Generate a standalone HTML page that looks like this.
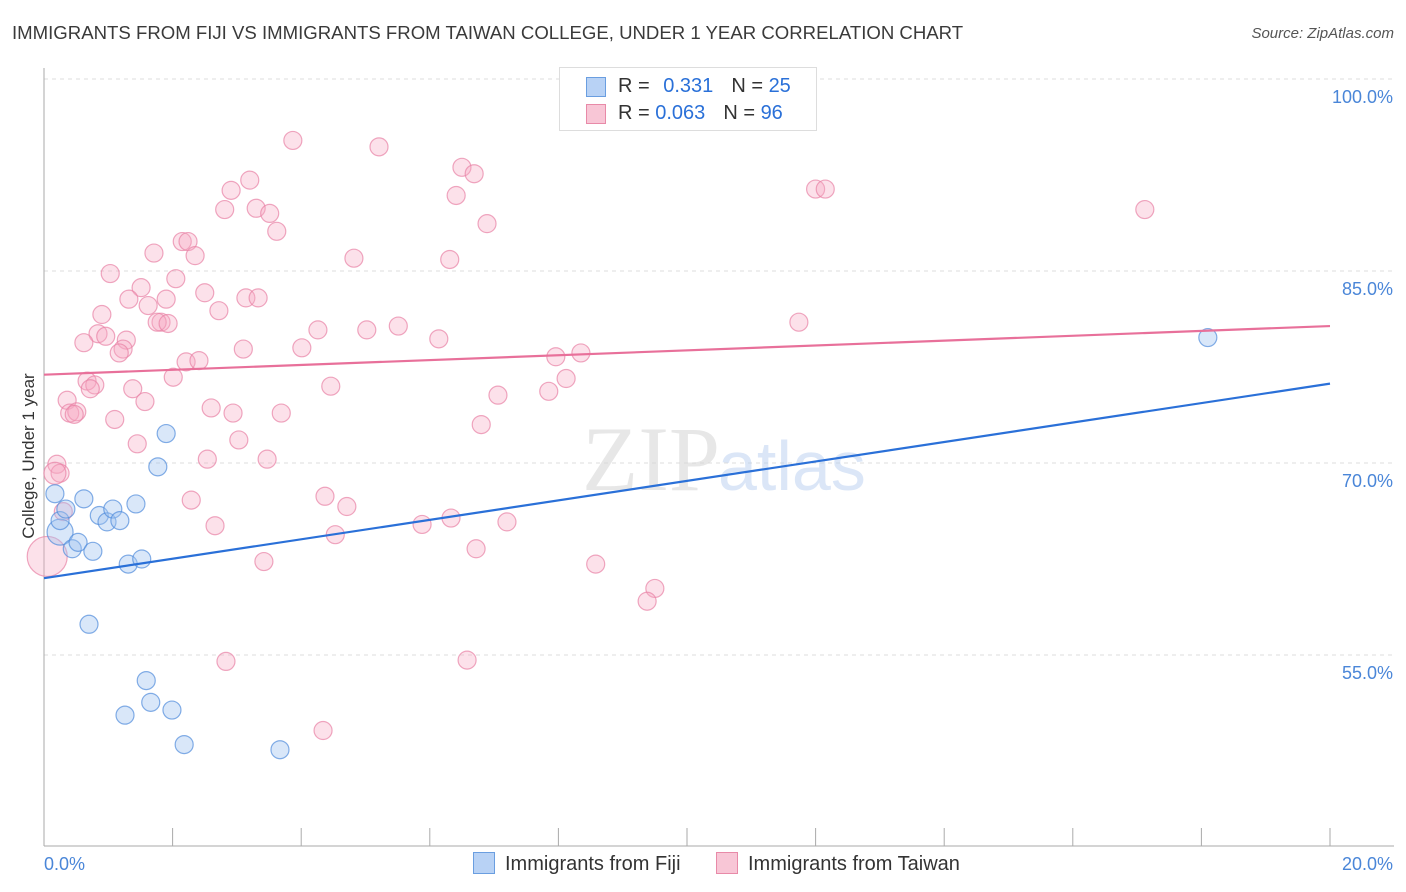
<!DOCTYPE html>
<html><head><meta charset="utf-8">
<style>
body{margin:0;background:#fff;font-family:"Liberation Sans",sans-serif;}
#wrap{position:relative;width:1406px;height:892px;overflow:hidden;}
.t{position:absolute;white-space:nowrap;}
</style></head>
<body>
<div id="wrap">
<div class="t" style="left:12px;top:22px;font-size:18.6px;color:#3a3a3a;">IMMIGRANTS FROM FIJI VS IMMIGRANTS FROM TAIWAN COLLEGE, UNDER 1 YEAR CORRELATION CHART</div>
<div class="t" style="right:12px;top:25px;font-size:15px;color:#555;font-style:italic;">Source: ZipAtlas.com</div>
<svg id="svg" width="1406" height="892" style="position:absolute;left:0;top:0"></svg>
</div>
<script>
const yTicks=[100,85,70,55];
const yTickLabels=["100.0%","85.0%","70.0%","55.0%"];
const fijiX=[0.25,0.17,0.25,0.34,0.44,0.53,0.62,0.76,0.70,0.86,0.98,1.07,1.18,1.31,1.43,1.52,1.90,1.77,1.59,1.66,1.99,1.26,2.18,3.67,18.1];
const fijiY=[64.6,67.6,65.5,66.4,63.3,63.8,67.2,63.1,57.4,65.9,65.4,66.4,65.5,62.1,66.8,62.5,72.3,69.7,53.0,51.3,50.7,50.3,48.0,47.6,79.8];
const twX=[3.87,5.21,6.50,6.69,6.41,3.20,2.91,2.81,3.30,3.51,3.62,6.89,2.15,2.24,1.71,2.35,4.82,6.31,1.03,2.05,1.51,2.50,1.32,1.90,3.14,3.33,1.62,2.72,0.90,1.82,1.76,1.93,4.26,5.02,5.51,0.84,0.96,1.28,0.62,1.23,1.17,3.10,4.01,6.14,11.74,8.35,7.96,0.67,0.79,2.01,2.21,2.41,4.46,1.38,0.72,0.36,1.57,7.06,7.85,8.12,2.60,0.40,0.51,1.10,0.47,2.94,3.69,6.80,1.45,3.03,2.54,3.47,0.20,0.25,2.29,4.37,4.71,0.30,2.66,5.88,6.33,7.20,4.53,6.72,3.42,8.58,9.50,9.38,2.83,6.58,4.34,12.0,12.15,17.12,0.05,0.17];
const twY=[95.2,94.7,93.1,92.6,90.9,92.1,91.3,89.8,89.9,89.5,88.1,88.7,87.3,87.3,86.4,86.2,86.0,85.9,84.8,84.4,83.7,83.3,82.8,82.8,82.9,82.9,82.3,81.9,81.6,81.0,81.0,80.9,80.4,80.4,80.7,80.1,79.9,79.6,79.4,78.9,78.6,78.9,79.0,79.7,81.0,78.6,78.3,76.4,76.1,76.7,77.9,78.0,76.0,75.8,75.8,74.9,74.8,75.3,75.6,76.6,74.3,73.9,74.0,73.4,73.8,73.9,73.9,73.0,71.5,71.8,70.3,70.3,69.9,69.2,67.1,67.4,66.6,66.2,65.1,65.2,65.7,65.4,64.4,63.3,62.3,62.1,60.2,59.2,54.5,54.6,49.1,91.4,91.4,89.8,62.7,69.2];
const twR=twX.map((v,i)=>i>=94?(i==94?20:11):9);
const fijiR=fijiX.map((v,i)=>i==0?13:9);
const fijiLine=[61.0,76.2], twLine=[76.9,80.7];
const X0=44,X1=1330;
const xs=v=>X0+(v/20)*(X1-X0);
const ys=v=>79+(100-v)*12.8;
const NS="http://www.w3.org/2000/svg",svg=document.getElementById('svg');
function mk(tag,at){const e=document.createElementNS(NS,tag);for(const k in at)e.setAttribute(k,at[k]);svg.appendChild(e);return e;}
function txt(x,y,s,at){const e=mk('text',Object.assign({x:x,y:y},at));e.textContent=s;return e;}
yTicks.forEach((t,i)=>{
 const g=mk('line',{x1:X0,x2:1394,y1:ys(t),y2:ys(t),stroke:'#dcdcdc','stroke-dasharray':'4,4'});
 
 
 const l=txt(1393,ys(t)+24,yTickLabels[i],{'text-anchor':'end','font-size':18,fill:'#4a86d8','font-family':'Liberation Sans'});
 
 
});
const ax=mk('line',{x1:X0,x2:X0,y1:68,y2:846,stroke:'#aaa'});


const bx=mk('line',{x1:X0,x2:1394,y1:846,y2:846,stroke:'#aaa'});


for(let v=2;v<=20;v+=2){const tk=mk('line',{x1:xs(v),x2:xs(v),y1:828,y2:846,stroke:'#aaa'});
 
 }
const xl0=txt(44,870,'0.0%',{'font-size':18,fill:'#4a86d8','font-family':'Liberation Sans'});


const xl1=txt(1393,870,'20.0%',{'text-anchor':'end','font-size':18,fill:'#4a86d8','font-family':'Liberation Sans'});


const yt=txt(0,0,'College, Under 1 year',{'font-size':17,fill:'#333','font-family':'Liberation Sans','text-anchor':'middle',transform:'translate(34,456) rotate(-90)'});


const wm=txt(720,490,'ZIP',{'font-size':92,fill:'#d8d8d8','font-family':'Liberation Serif','text-anchor':'end','opacity':0.6});


const wm2=txt(718,490,'atlas',{'font-size':70,fill:'#b8cff0','font-family':'Liberation Sans','opacity':0.5});


twX.forEach((v,i)=>{const c=mk('circle',{cx:xs(v),cy:ys(twY[i]),r:twR[i],fill:'rgba(245,170,195,0.35)',stroke:'rgba(232,130,165,0.7)','stroke-width':1.2});
 
 });
fijiX.forEach((v,i)=>{const c=mk('circle',{cx:xs(v),cy:ys(fijiY[i]),r:fijiR[i],fill:'rgba(160,195,240,0.4)',stroke:'rgba(80,140,220,0.7)','stroke-width':1.2});
 
 });
const l1=mk('line',{x1:xs(0),x2:xs(20),y1:ys(twLine[0]),y2:ys(twLine[1]),stroke:'#e8709a','stroke-width':2.2});


const l2=mk('line',{x1:xs(0),x2:xs(20),y1:ys(fijiLine[0]),y2:ys(fijiLine[1]),stroke:'#2a70d8','stroke-width':2.2});


</script>
<div class="t" style="left:559px;top:67px;width:256px;height:62px;border:1px solid #ddd;background:#fff;font-size:20px;color:#333;">
 <div style="position:absolute;left:26px;top:7px;"><span style="display:inline-block;width:18px;height:18px;background:#b8d2f5;border:1px solid #6a9ee0;position:absolute;left:0;top:2px;"></span><span style="margin-left:32px">R = </span><span style="color:#2a70d8;margin-left:8px">0.331</span><span style="margin-left:18px">N = </span><span style="color:#2a70d8">25</span></div>
 <div style="position:absolute;left:26px;top:34px;"><span style="display:inline-block;width:18px;height:18px;background:#f8c6d6;border:1px solid #e88aa8;position:absolute;left:0;top:2px;"></span><span style="margin-left:32px">R = </span><span style="color:#2a70d8">0.063</span><span style="margin-left:18px">N = </span><span style="color:#2a70d8">96</span></div>
</div>
<div class="t" style="left:473px;top:852px;font-size:20px;color:#333;"><span style="display:inline-block;width:20px;height:20px;background:#b8d2f5;border:1px solid #6a9ee0;vertical-align:-4px;margin-right:10px;"></span>Immigrants from Fiji</div>
<div class="t" style="left:716px;top:852px;font-size:20px;color:#333;"><span style="display:inline-block;width:20px;height:20px;background:#f8c6d6;border:1px solid #e88aa8;vertical-align:-4px;margin-right:10px;"></span>Immigrants from Taiwan</div>
</body></html>
